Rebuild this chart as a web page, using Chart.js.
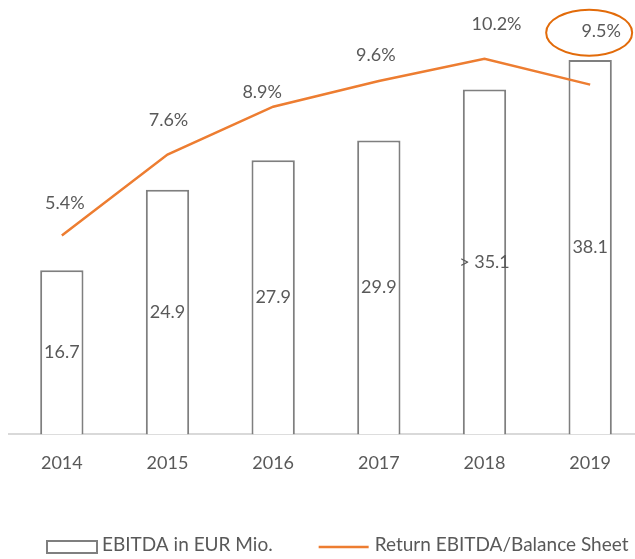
<!DOCTYPE html>
<html>
<head>
<meta charset="utf-8">
<script src="https://cdn.jsdelivr.net/npm/chart.js@4/dist/chart.umd.min.js"></script>
<style>
  html, body { margin: 0; padding: 0; background: #fff; overflow: hidden; }
  #wrap { width: 645px; height: 559px; position: relative; }
</style>
</head>
<body>
<div id="wrap"><canvas id="ebitdaChart"></canvas></div>
<script>
// data
const years = ['2014', '2015', '2016', '2017', '2018', '2019'];
const ebitda = [16.7, 24.9, 27.9, 29.9, 35.1, 38.1];
const barPrefix = ['', '', '', '', '> ', ''];
const returnPct = [5.4, 7.6, 8.9, 9.6, 10.2, 9.5];
const seriesNames = ['EBITDA in EUR Mio.', 'Return EBITDA/Balance Sheet'];

// label nudges (px) for the % labels, like in the original
const pctShift = [[3, -32], [1, -34], [-11, -15], [-3, -26], [12, -35], [11, -53]];
const circledIndex = 5;

const textColor = '#595959';
const orange = '#ED7D31';
const barEdge = '#7f7f7f';
const font = 'Lato, "Open Sans", sans-serif';

const valueLabels = {
    id: 'valueLabels',
    afterDatasetsDraw(chart) {
        const ctx = chart.ctx;
        ctx.save();
        ctx.font = '18px ' + font;
        ctx.fillStyle = textColor;
        ctx.textAlign = 'center';
        ctx.textBaseline = 'middle';

        // numbers inside the bars
        chart.getDatasetMeta(0).data.forEach((bar, i) => {
            ctx.fillText(barPrefix[i] + ebitda[i].toFixed(1), bar.x, (bar.y + bar.base) / 2);
        });

        // percentages above the line
        chart.getDatasetMeta(1).data.forEach((pt, i) => {
            const x = pt.x + pctShift[i][0];
            const y = pt.y + pctShift[i][1];
            ctx.fillText(returnPct[i].toFixed(1) + '%', x, y);
            if (i === circledIndex) {
                ctx.beginPath();
                ctx.ellipse(x - 12, y + 1, 43, 23, 0, 0, Math.PI * 2);
                ctx.strokeStyle = '#E26B0A';
                ctx.lineWidth = 2;
                ctx.stroke();
            }
        });
        ctx.restore();
    }
};

// simple legend under the axis (the built-in one wraps at this spacing)
const bottomLegend = {
    id: 'bottomLegend',
    afterDraw(chart) {
        const ctx = chart.ctx;
        const y = 547;
        let x = 47;
        ctx.save();
        ctx.font = '19px ' + font;
        ctx.fillStyle = textColor;
        ctx.textBaseline = 'middle';
        ctx.textAlign = 'left';

        ctx.strokeStyle = barEdge;
        ctx.lineWidth = 2;
        ctx.strokeRect(x, y - 6, 50, 12);
        x += 55;
        ctx.fillText(seriesNames[0], x, y - 2);
        x += ctx.measureText(seriesNames[0]).width + 46;

        ctx.strokeStyle = orange;
        ctx.lineWidth = 2.5;
        ctx.beginPath();
        ctx.moveTo(x, y);
        ctx.lineTo(x + 50, y);
        ctx.stroke();
        x += 56;
        ctx.fillText(seriesNames[1], x, y - 2);
        ctx.restore();
    }
};

new Chart(document.getElementById('ebitdaChart'), {
    data: {
        labels: years,
        datasets: [{
            type: 'bar',
            label: seriesNames[0],
            data: ebitda,
            backgroundColor: '#ffffff',
            borderColor: barEdge,
            borderWidth: 2,
            barPercentage: 0.41,
            categoryPercentage: 1,
            yAxisID: 'y',
            order: 2
        }, {
            type: 'line',
            label: seriesNames[1],
            data: returnPct,
            borderColor: orange,
            backgroundColor: orange,
            borderWidth: 2.5,
            pointRadius: 0,
            pointHoverRadius: 0,
            tension: 0,
            yAxisID: 'y1',
            order: 1
        }]
    },
    options: {
        responsive: true,
        maintainAspectRatio: false,
        animation: false,
        layout: {
            padding: { left: 9, right: 2, top: 4, bottom: 67 }
        },
        scales: {
            x: {
                grid: { display: false, drawTicks: false },
                border: { display: true, color: '#d9d9d9', width: 2 },
                ticks: {
                    color: textColor,
                    font: { family: font, size: 18 },
                    padding: 18
                }
            },
            y: { display: false, min: 0, max: 43.8 },
            y1: { display: false, min: 0, max: 11.69 }
        },
        plugins: {
            legend: { display: false },
            tooltip: { enabled: false }
        }
    },
    plugins: [valueLabels, bottomLegend]
});
</script>
</body>
</html>
